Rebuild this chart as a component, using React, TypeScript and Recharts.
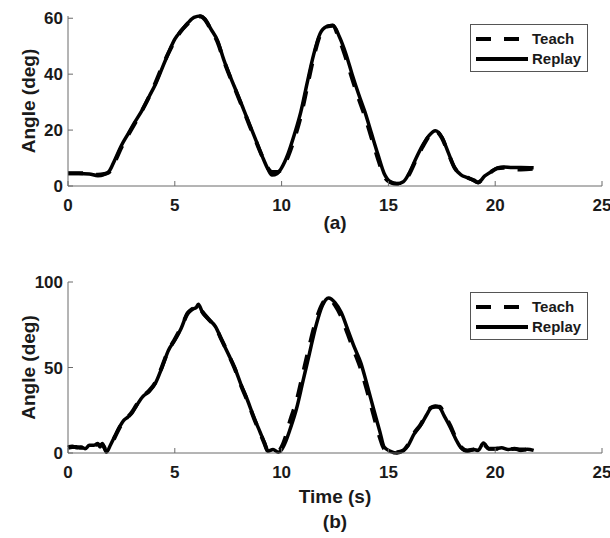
import { LineChart, Line, XAxis, YAxis, Legend, Label } from 'recharts';

// time (s) and angle (deg)
const topTime = [0, 0.5, 1.0, 1.4, 1.7, 1.9, 2.2, 2.5, 2.8, 3.1, 3.5, 3.8, 4.1, 4.4, 4.7, 5.0, 5.3, 5.6, 5.9, 6.2, 6.4, 6.7, 7.0, 7.3, 7.6, 7.9, 8.2, 8.5, 8.8, 9.1, 9.35, 9.55, 9.8, 10.0, 10.3, 10.6, 10.9, 11.2, 11.5, 11.8, 12.1, 12.4, 12.7, 13.0, 13.3, 13.6, 13.9, 14.2, 14.5, 14.8, 15.1, 15.4, 15.7, 16.0, 16.3, 16.6, 16.9, 17.2, 17.5, 17.8, 18.1, 18.4, 18.7, 19.0, 19.2, 19.5, 19.8, 20.1, 20.4, 20.8, 21.2, 21.8];
const topReplay = [4.5, 4.5, 4.3, 3.7, 4.2, 5.0, 9.5, 14.5, 18.5, 22.5, 27.5, 32, 36.5, 42, 47.5, 52.5, 55.5, 58.2, 60.3, 60.8, 59.8, 56, 52, 45, 39, 33.5, 27.8, 22, 16.3, 10.5, 6.2, 3.9, 4.5, 6.5, 11.5, 18.5, 26.5, 37, 47, 54.5, 57, 57.5, 53.5, 47.5, 40, 33, 26.5, 19, 11.5, 4.5, 1.5, 0.8, 1.5, 5, 10, 14.5, 18, 19.8, 17.5, 12, 6.5, 4, 3, 2, 1.2, 3.5, 5, 6.5, 6.8, 6.6, 6.6, 6.5];
const topTeach = [4.6, 4.6, 4.4, 4.0, 4.3, 4.8, 8.8, 13.8, 18, 22, 27.5, 32, 37, 42.5, 47.5, 52, 55.5, 58, 60.2, 60.6, 59.6, 55.8, 51.5, 44.8, 38.8, 33.2, 27.5, 21.6, 16, 10.5, 6.5, 5, 5, 6, 10.5, 17, 25, 35.5, 46, 54, 57, 57.3, 52.5, 46, 38.5, 31.5, 25, 17.5, 10, 3.5, 1.3, 0.8, 1.5, 4.6, 9.5, 14, 17.8, 19.7, 17.3, 11.8, 6.5, 4, 3, 2, 1.3, 3.3, 5, 6.3, 6.5, 6.0, 5.9, 6.2];

const botTime = [0, 0.2, 0.4, 0.6, 0.8, 1.0, 1.2, 1.4, 1.5, 1.6, 1.8, 2.0, 2.2, 2.4, 2.6, 2.8, 3.0, 3.2, 3.5, 3.8, 4.1, 4.4, 4.7, 5.0, 5.3, 5.6, 5.8, 6.0, 6.1, 6.3, 6.6, 6.9, 7.2, 7.5, 7.8, 8.1, 8.4, 8.7, 9.0, 9.2, 9.35, 9.6, 9.85, 10.0, 10.2, 10.4, 10.7, 11.0, 11.3, 11.6, 11.9, 12.2, 12.5, 12.8, 13.1, 13.4, 13.7, 14.0, 14.3, 14.6, 14.8, 15.1, 15.4, 15.7, 15.9, 16.2, 16.5, 16.8, 17.0, 17.2, 17.4, 17.6, 17.9, 18.2, 18.4, 18.7, 19.0, 19.2, 19.45, 19.7, 20.0, 20.3, 20.6, 20.9, 21.2, 21.5, 21.8];
const botReplay = [3.5, 4, 3, 3.5, 2.5, 4.5, 4.5, 5.5, 3.5, 5.5, 0.5, 5, 10, 15, 19, 21, 23.5, 27.5, 33, 36, 41, 50, 60, 66, 73, 82, 84, 85, 87, 82, 78, 74, 66, 58, 50, 40, 31, 21, 12, 6, 1, 2, 0.5, 2, 7, 14, 26, 42, 58, 74, 86, 90.7, 88, 82, 72, 62, 53, 40, 26, 12.5, 3.5, 1, 0, 1.5, 4, 11, 16, 22.5, 26.5, 27.5, 26.5, 22, 15, 7, 3, 1, 2, 1.5, 5.8, 2.5, 2.5, 3, 2, 2.5, 1.5, 2.2, 1.5];
const botTeach = [3, 3.5, 3.5, 3, 3, 4, 4.5, 5, 4.5, 5, 1.5, 4.5, 9.5, 14.5, 18.5, 21, 24, 28, 33, 36.5, 41.5, 50.5, 60, 66.5, 73.5, 81.5, 84, 85.5, 86.5, 82.5, 78, 73.5, 66, 58, 49.5, 39.5, 30.5, 20.5, 11.5, 5.5, 1.5, 1.5, 1, 3.5, 10, 19, 30.5, 46.5, 62.5, 77, 87, 90.5, 86.5, 79.5, 69.5, 59.5, 49.5, 36.5, 22.5, 9, 2.5, 0.8, 0.5, 1.5, 4.5, 11.5, 16.5, 23, 26.5, 27, 27, 23, 16, 7.5, 3.5, 1.5, 2, 2, 5, 2.5, 2.5, 2.5, 2, 2.5, 2, 2, 1.5];

const xTicks = [0, 5, 10, 15, 20, 25];
const topYTicks = [0, 20, 40, 60];
const botYTicks = [0, 50, 100];
const seriesOrder = ['Teach', 'Replay'];

const topRows = topTime.map((t, i) => ({ t, teach: topTeach[i], replay: topReplay[i] }));
const botRows = botTime.map((t, i) => ({ t, teach: botTeach[i], replay: botReplay[i] }));

const FONT = '"Liberation Sans", Arial, sans-serif';
const AXIS = '#6b6b6b';
const INK = '#1a1a1a';
const tickStyle = { fontSize: 17, fontWeight: 700, fill: INK, fontFamily: FONT };
const titleStyle = { fontSize: 19, fontWeight: 700, fill: INK, fontFamily: FONT };

const LegendBox = (props: any) => {
  const items = [...(props.payload || [])].sort(
    (a: any, b: any) => seriesOrder.indexOf(a.value) - seriesOrder.indexOf(b.value)
  );
  return (
    <div style={{ border: '1px solid #555', background: '#fff', padding: '4px 0 2px 5px', width: 118, boxSizing: 'border-box' }}>
      {items.map((it: any) => (
        <div key={it.value} style={{ display: 'flex', alignItems: 'center', height: 20 }}>
          <svg width={52} height={20} style={{ display: 'block' }}>
            <line x1={0} y1={10} x2={52} y2={10} stroke="#000" strokeWidth={4} strokeDasharray={it.payload?.strokeDasharray} />
          </svg>
          <span style={{ marginLeft: 4, fontSize: 15, fontWeight: 700, fontFamily: FONT, color: INK, lineHeight: '20px' }}>{it.value}</span>
        </div>
      ))}
    </div>
  );
};

function Panel({ rows, height, top, xAxisHeight, yMax, yTicks, legendTop, bottomLabels }: any) {
  return (
    <LineChart width={610} height={height} data={rows} margin={{ top, right: 8, bottom: 0, left: 0 }}>
      <XAxis type="number" dataKey="t" domain={[0, 25]} ticks={xTicks} interval={0} height={xAxisHeight}
        tickSize={-5} tickMargin={18} tick={tickStyle} axisLine={{ stroke: AXIS }} tickLine={{ stroke: AXIS }}>
        {bottomLabels.map((b: any) => (
          <Label key={b.text} value={b.text} position="insideBottom" offset={b.offset} style={titleStyle} />
        ))}
      </XAxis>
      <YAxis type="number" domain={[0, yMax]} ticks={yTicks} interval={0} width={68}
        tickSize={-5} tickMargin={10} tick={tickStyle} axisLine={{ stroke: AXIS }} tickLine={{ stroke: AXIS }}>
        <Label value="Angle (deg)" angle={-90} position="insideLeft" offset={28} style={{ ...titleStyle, textAnchor: 'middle' }} />
      </YAxis>
      <Legend layout="horizontal" verticalAlign="middle" align="center" content={<LegendBox />}
        wrapperStyle={{ position: 'absolute', left: 470, top: legendTop, width: 118 }} />
      <Line name="Teach" dataKey="teach" type="monotone" stroke="#000" strokeWidth={4} strokeDasharray="15 13" dot={false} isAnimationActive={false} />
      <Line name="Replay" dataKey="replay" type="monotone" stroke="#000" strokeWidth={3.5} dot={false} isAnimationActive={false} />
    </LineChart>
  );
}

export default function App() {
  return (
    <div style={{ position: 'absolute', left: 0, top: 0, width: 610, height: 538, background: '#fff', fontFamily: FONT }}>
      <Panel rows={topRows} height={250} top={16} xAxisHeight={64} yMax={60} yTicks={topYTicks} legendTop={24}
        bottomLabels={[{ text: '(a)', offset: 21 }]} />
      <Panel rows={botRows} height={288} top={32} xAxisHeight={85} yMax={100} yTicks={botYTicks} legendTop={42}
        bottomLabels={[{ text: 'Time (s)', offset: 35 }, { text: '(b)', offset: 10 }]} />
    </div>
  );
}
